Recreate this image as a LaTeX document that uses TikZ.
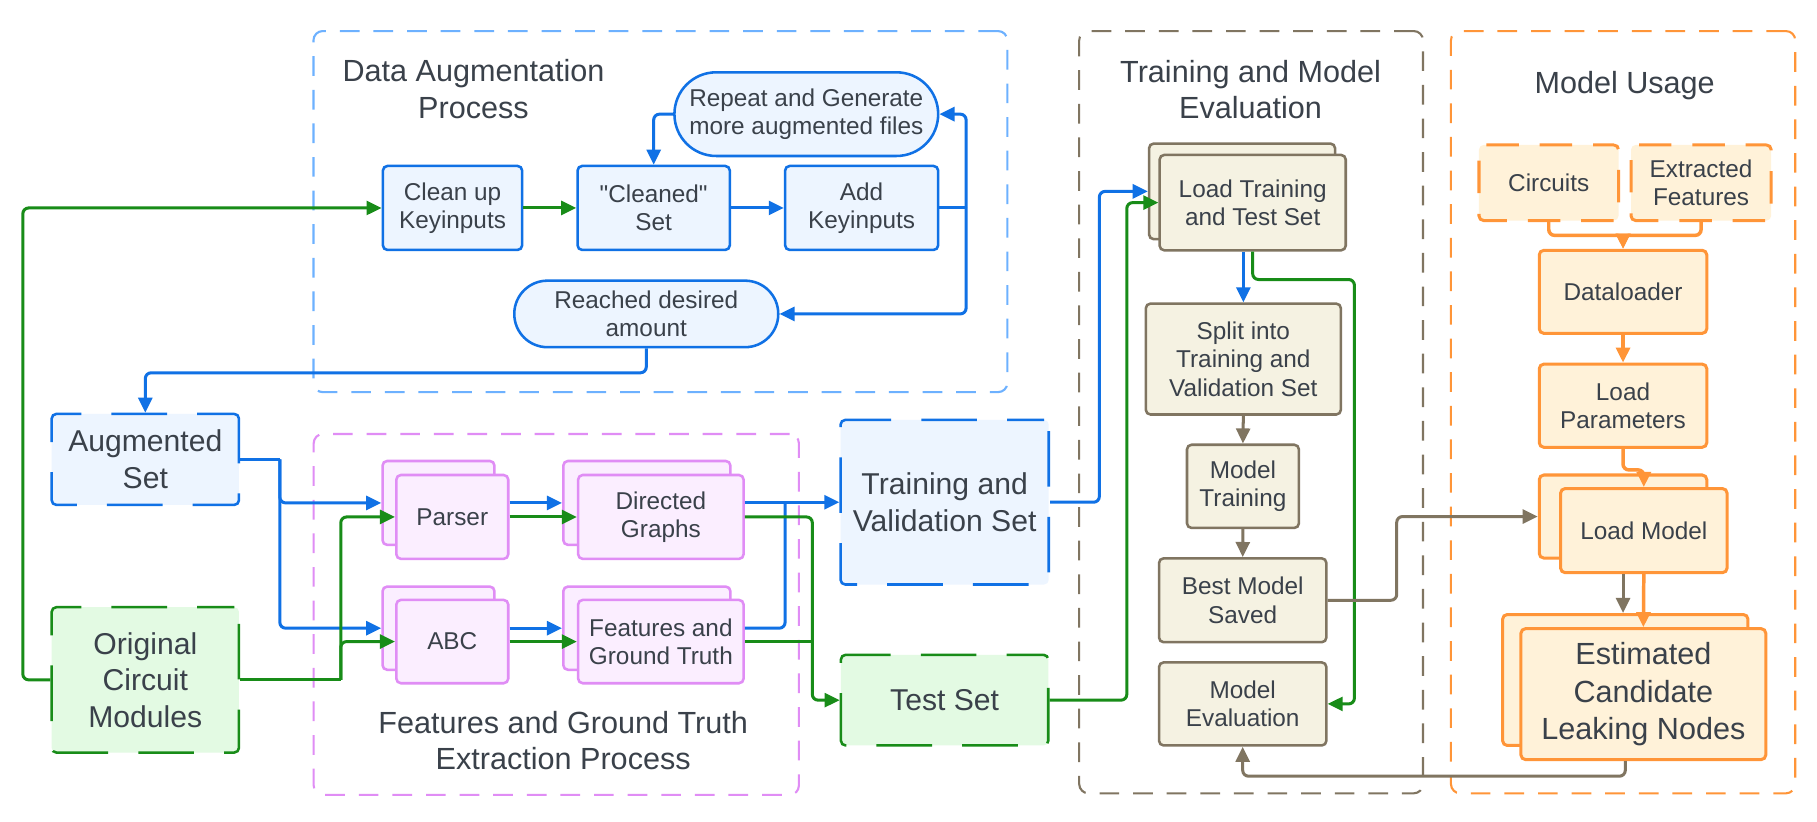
\documentclass[tikz,border=0pt]{standalone}
\usepackage{fontspec}
\setmainfont{Liberation Sans}[Ligatures=TeXOff]
\usetikzlibrary{arrows.meta}
\definecolor{ctxt}{HTML}{3A414A}
\definecolor{cbl}{HTML}{1071E5}
\definecolor{cblf}{HTML}{EDF5FF}
\definecolor{cblc}{HTML}{6DB1FF}
\definecolor{cgr}{HTML}{188C18}
\definecolor{cgrf}{HTML}{E3FAE3}
\definecolor{cvi}{HTML}{E08DF5}
\definecolor{cvif}{HTML}{FBEEFF}
\definecolor{cbr}{HTML}{807561}
\definecolor{cbrf}{HTML}{F5F2E2}
\definecolor{cor}{HTML}{FF9538}
\definecolor{corf}{HTML}{FFF2D9}
\tikzset{
 box/.style={draw, line width=1.1pt, rounded corners=2pt, align=center, inner sep=0pt, text=ctxt, font=\fontsize{10.5}{12.2}\selectfont},
 bigtext/.style={font=\fontsize{13}{15.8}\selectfont},
 bluebox/.style={box, draw=cbl, fill=cblf},
 greenbox/.style={box, draw=cgr, fill=cgrf},
 violetbox/.style={box, draw=cvi, fill=cvif},
 brownbox/.style={box, draw=cbr, fill=cbrf},
 orangebox/.style={box, draw=cor, fill=corf, line width=1.3pt},
 dashedge/.style={dash pattern=on 24pt off 13pt, dash phase=8pt},
 smalldash/.style={dash pattern=on 14pt off 9pt, dash phase=5pt},
 cont/.style={draw, line width=0.9pt, dash pattern=on 8.5pt off 6pt, rounded corners=4pt, inner sep=0pt},
 title/.style={text=ctxt, font=\fontsize{13.2}{15.8}\selectfont, align=center, inner sep=0pt},
 conn/.style={line width=1.3pt, rounded corners=2.5pt, -{Triangle[length=6.5pt,width=6pt]}},
 link/.style={line width=1.3pt, rounded corners=2.5pt}
}
\newcommand\bx[7]{%
 \pgfmathsetmacro\bxcx{(#3+#5)/2}%
 \pgfmathsetmacro\bxcy{(#4+#6)/2}%
 \pgfmathsetmacro\bxw{(#5-#3)/2}%
 \pgfmathsetmacro\bxh{(#6-#4)/2}%
 \node[#2, minimum width=\bxw pt, minimum height=\bxh pt] (#1) at (\bxcx,\bxcy) {#7};}
\begin{document}
\begin{tikzpicture}[x=0.5pt,y=-0.5pt]
\useasboundingbox[fill=white] (0,0) rectangle (1568,709.35);
% containers
\bx{daproc}{cont, draw=cblc}{270.5}{26.8}{869.3}{338.4}{}
\bx{fgproc}{cont, draw=cvi}{270.7}{374.5}{689.4}{685.9}{}
\bx{tmeval}{cont, draw=cbr}{931.3}{26.8}{1228}{684.6}{}
\bx{musage}{cont, draw=cor}{1252.1}{26.8}{1549.2}{684.6}{}
\node[title] (datitle) at (408.6,76.8) {Data Augmentation\\Process};
\node[title] (fgtitle) at (486,639) {Features and Ground Truth\\Extraction Process};
\node[title] (tmtitle) at (1079.2,77.3) {Training and Model\\Evaluation};
\node[title] (mutitle) at (1402,73.5) {Model Usage};
% data augmentation
\bx{cleanup}{bluebox}{330.4}{143.2}{450.6}{215.7}{Clean up\\Keyinputs}
\bx{cleaned}{bluebox}{498.4}{143.2}{629.8}{215.7}{"Cleaned"\\Set}
\bx{addkey}{bluebox}{677.5}{143.2}{809.6}{215.7}{Add\\Keyinputs}
\bx{repeat}{bluebox, rounded corners=18pt}{582}{62.4}{809.6}{134.6}{Repeat and Generate\\more augmented files}
\bx{reached}{bluebox, rounded corners=14.3pt}{443.8}{242.2}{671.6}{299.6}{Reached desired\\amount}
% sources
\bx{augmented}{bluebox, bigtext, dashedge}{44.6}{357.2}{206.2}{435.7}{Augmented\\Set}
\bx{original}{greenbox, bigtext, dashedge}{44.6}{524}{206.2}{649.4}{Original\\Circuit\\Modules}
% feature extraction
\bx{parserb}{violetbox}{330.1}{397.8}{426.7}{470.2}{}
\bx{parserf}{violetbox}{342}{409.9}{438.6}{482.3}{Parser}
\bx{dgb}{violetbox}{486.1}{397.8}{630.3}{470.2}{}
\bx{dgf}{violetbox}{498.9}{409.9}{641.7}{482.3}{Directed\\Graphs}
\bx{abcb}{violetbox}{330.1}{506.2}{426.7}{578}{}
\bx{abcf}{violetbox}{342}{517.7}{438.6}{589.6}{ABC}
\bx{fgtb}{violetbox}{486.1}{506.2}{630.3}{578}{}
\bx{fgtf}{violetbox}{498.9}{517.7}{641.7}{589.6}{Features and\\Ground Truth}
% sets
\bx{tvset}{bluebox, bigtext, dashedge}{725.4}{362.4}{905}{504.4}{Training and\\Validation Set}
\bx{testset}{greenbox, bigtext, dashedge}{725.7}{565.1}{904.6}{643.3}{Test Set}
% training
\bx{ltb}{brownbox}{991.6}{123.9}{1152.1}{206.4}{}
\bx{ltf}{brownbox}{1000.7}{133.7}{1161.3}{216}{Load Training\\and Test Set}
\bx{split}{brownbox}{988.8}{262}{1157.1}{357.7}{Split into\\Training and\\Validation Set}
\bx{mtrain}{brownbox}{1024.3}{383.8}{1120.9}{455.6}{Model\\Training}
\bx{best}{brownbox}{1000.2}{481.8}{1144.6}{554.2}{Best Model\\Saved}
\bx{meval}{brownbox}{1000.2}{571.6}{1144.6}{643.3}{Model\\Evaluation}
% model usage
\bx{circuits}{orangebox, smalldash}{1276.3}{125.1}{1396.7}{190.3}{Circuits}
\bx{extracted}{orangebox, smalldash}{1407.5}{125.1}{1528.4}{190.3}{Extracted\\Features}
\bx{dataloader}{orangebox}{1328.3}{216}{1472.9}{287.7}{Dataloader}
\bx{lparams}{orangebox}{1328.3}{314.2}{1472.9}{386}{Load\\Parameters}
\bx{lmb}{orangebox}{1328.3}{409.9}{1472.9}{481.6}{}
\bx{lmf}{orangebox}{1346.7}{421.6}{1490.4}{494.2}{Load Model}
\bx{estb}{orangebox}{1296.7}{530.3}{1508.4}{643.3}{}
\bx{estf}{orangebox, font=\fontsize{13.2}{16}\selectfont}{1312.5}{542.5}{1523.8}{655.5}{Estimated\\Candidate\\Leaking Nodes}
% junction coordinates
\coordinate (addj) at (833.7,179.45);
\coordinate (augj) at (241.5,396.45);
\coordinate (origj) at (294.1,586.7);
\coordinate (tvj) at (677.5,433.4);
\coordinate (testj) at (701,553.65);
% blue connectors
\draw[conn, cbl] (cleaned.east) -- (addkey.west);
\draw[link, cbl] (addkey.east) -- (addj);
\draw[conn, cbl] (addj) |- (repeat.east);
\draw[conn, cbl] (addj) |- (reached.east);
\draw[conn, cbl] (repeat.west) -| (cleaned.north);
\draw[conn, cbl] (reached.south) -- ++(0,21) -| (augmented.north);
\draw[link, cbl] (augmented.east) -- (augj);
\draw[conn, cbl] (augj) |- (parserb.west);
\draw[conn, cbl] (augj) |- (abcb.west);
\draw[conn, cbl] (parserb.west -| parserf.east) -- (dgb.west);
\draw[conn, cbl] (abcb.west -| abcf.east) -- (fgtb.west);
\draw[conn, cbl] (dgf.east |- tvset.west) -- (tvset.west);
\draw[link, cbl] (fgtf.east |- fgtb.west) -| (tvj);
\draw[conn, cbl] (tvset.east) -- ++(42.6,0) |- (ltb.west);
\draw[conn, cbl] (ltf.south -| split.north) -- (split.north);
% green connectors
\draw[conn, cgr] (original.west) -- ++(-23.8,0) |- (cleanup.west);
\draw[conn, cgr] (cleanup.east) -- (cleaned.west);
\draw[link, cgr] (original.east) -- (origj);
\draw[conn, cgr] (origj) |- (parserf.west);
\draw[conn, cgr] (origj) |- (abcf.west);
\draw[conn, cgr] (parserf.east) -- (dgf.west);
\draw[conn, cgr] (abcf.east) -- (fgtf.west);
\draw[conn, cgr] (dgf.east) -| (testj) |- (testset.west);
\draw[link, cgr] (fgtf.east) -- (testj);
\draw[conn, cgr] (testset.east) -- ++(66.7,0) |- (ltf.west);
\draw[conn, cgr] (ltf.south) |- (1168.8,241.2) |- (meval.east);
% brown connectors
\draw[conn, cbr] (split.south) -- (mtrain.north);
\draw[conn, cbr] (mtrain.south) -- (best.north);
\draw[conn, cbr] (best.east) -- ++(59.6,0) |- (lmb.west);
\draw[conn, cbr] (lmb.center |- lmf.south) -- (lmb.center |- estb.north);
\draw[conn, cbr] (estb.center |- estf.south) -- ++(0,13) -| (meval.south);
% orange connectors
\draw[conn, cor, line width=1.5pt] (circuits.south) -- ++(0,11.5) -| (dataloader.north);
\draw[conn, cor, line width=1.5pt] (extracted.south) -- ++(0,11.5) -| (dataloader.north);
\draw[conn, cor, line width=1.5pt] (dataloader.south) -- (lparams.north);
\draw[conn, cor, line width=1.5pt] (lparams.south) -- ++(0,18.2) -| (lmf.north);
\draw[conn, cor, line width=1.5pt] (lmf.south) -- (estf.north);
\end{tikzpicture}
\end{document}
